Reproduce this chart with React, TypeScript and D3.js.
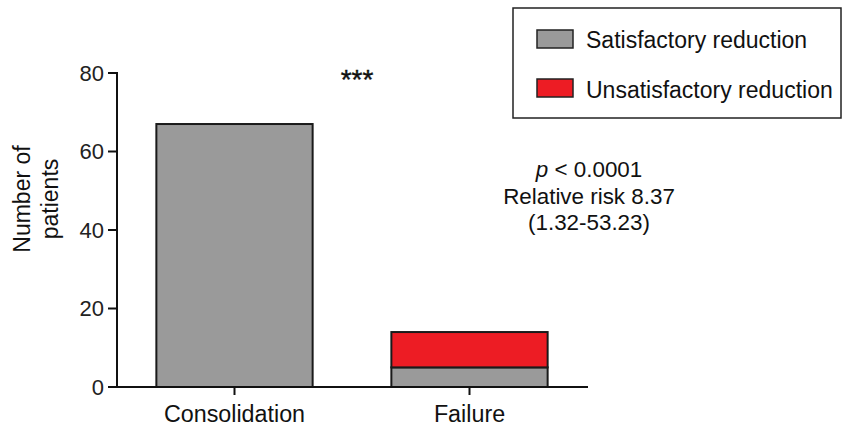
import React from "react";
import * as d3 from "d3";

const categories = ["Consolidation", "Failure"];
const satisfactory = [67, 5];
const unsatisfactory = [0, 9];
const yTicks = [0, 20, 40, 60, 80];
const legendLabels = ["Satisfactory reduction", "Unsatisfactory reduction"];
const annotationLines = ["< 0.0001", "Relative risk 8.37", "(1.32-53.23)"];

const W = 842;
const H = 429;
const FONT = "'Liberation Sans', Arial, Helvetica, sans-serif";
const GRAY = "#9a9a9a";
const RED = "#ed1c24";

export default function App() {
  const y = d3.scaleLinear().domain([0, 80]).range([387, 73]);
  const x = d3
    .scaleBand<string>()
    .domain(categories)
    .range([117, 587])
    .paddingInner(0.335)
    .paddingOuter(0.1675);
  const colors = [GRAY, RED];
  const stackData = categories.map((c, i) => ({
    cat: c,
    sat: satisfactory[i],
    unsat: unsatisfactory[i],
  }));
  const stack = d3.stack<any>().keys(["sat", "unsat"])(stackData);

  return (
    <svg
      width={W}
      height={H}
      style={{ position: "absolute", left: 0, top: 0, fontFamily: FONT }}
    >
      <rect width={W} height={H} fill="#fff" />
      {stack.map((series, si) =>
        series.map((d, i) =>
          d[1] - d[0] > 0 ? (
            <rect
              key={`${si}-${i}`}
              x={x(categories[i])!}
              y={y(d[1])}
              width={x.bandwidth()}
              height={y(d[0]) - y(d[1])}
              fill={colors[si]}
              stroke="#1a1a1a"
              strokeWidth={2}
            />
          ) : null
        )
      )}
      <line x1={117} x2={117} y1={y(80) - 1} y2={y(0) + 1} stroke="#111" strokeWidth={2} />
      {yTicks.map((t) => (
        <g key={t}>
          <line x1={108} x2={117} y1={y(t)} y2={y(t)} stroke="#111" strokeWidth={2} />
          <text x={104} y={y(t)} dy="0.36em" textAnchor="end" fontSize={22} fill="#222">
            {t}
          </text>
        </g>
      ))}
      <line x1={116} x2={588} y1={y(0)} y2={y(0)} stroke="#111" strokeWidth={2} />
      {categories.map((c) => {
        const cx = x(c)! + x.bandwidth() / 2;
        return (
          <g key={c}>
            <line x1={cx} x2={cx} y1={y(0)} y2={y(0) + 8} stroke="#111" strokeWidth={2} />
            <text x={cx} y={422} textAnchor="middle" fontSize={23.3} fill="#111">
              {c}
            </text>
          </g>
        );
      })}
      <text transform="translate(30,199) rotate(-90)" textAnchor="middle" fontSize={23} fill="#111">
        Number of
      </text>
      <text transform="translate(58,199) rotate(-90)" textAnchor="middle" fontSize={23} fill="#111">
        patients
      </text>
      <text x={357} y={89} textAnchor="middle" fontSize={28} fill="#111" stroke="#111" strokeWidth={0.4}>
        ***
      </text>
      <text x={589} y={177} textAnchor="middle" fontSize={22.4} fill="#111">
        <tspan fontStyle="italic">p</tspan> {annotationLines[0]}
      </text>
      <text x={589} y={204} textAnchor="middle" fontSize={22.4} fill="#111">
        {annotationLines[1]}
      </text>
      <text x={589} y={230} textAnchor="middle" fontSize={22.4} fill="#111">
        {annotationLines[2]}
      </text>
      <rect x={513} y={8} width={328} height={110} fill="#fff" stroke="#222" strokeWidth={1.5} />
      {legendLabels.map((l, i) => (
        <g key={l}>
          <rect
            x={537}
            y={i === 0 ? 30 : 79}
            width={36}
            height={18}
            fill={colors[i]}
            stroke="#222"
            strokeWidth={1.5}
          />
          <text x={586} y={i === 0 ? 48 : 98} fontSize={23} fill="#111">
            {l}
          </text>
        </g>
      ))}
    </svg>
  );
}
